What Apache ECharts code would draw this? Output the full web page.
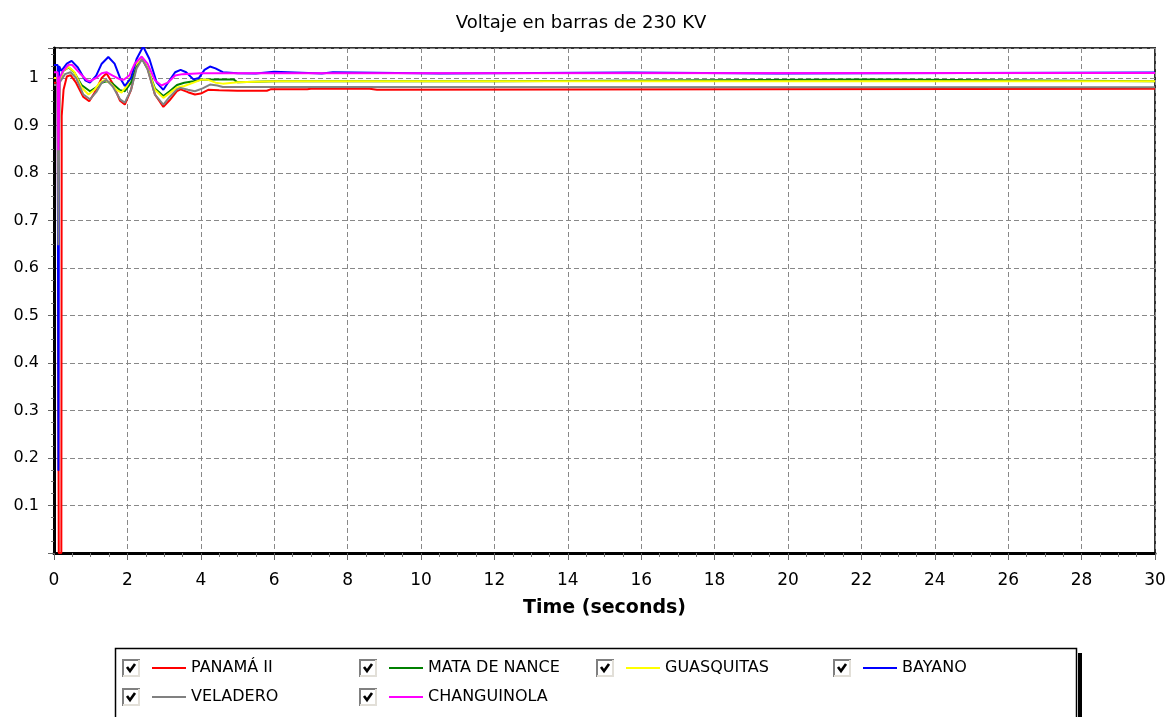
<!DOCTYPE html>
<html>
<head>
<meta charset="utf-8">
<script src="https://cdn.jsdelivr.net/npm/echarts@6/dist/echarts.min.js"></script>
<style>
html,body{margin:0;padding:0;background:#fff;}
#chart{width:1171px;height:717px;}
</style>
</head>
<body>
<div id="chart"></div>
<script>
const titleText = 'Voltaje en barras de 230 KV';
const xAxisName = 'Time (seconds)';
const seriesNames = ['PANAMÁ II', 'MATA DE NANCE', 'GUASQUITAS', 'BAYANO', 'VELADERO', 'CHANGUINOLA'];
const seriesColors = ['#ff0000', '#008000', '#ffff00', '#0000ff', '#808080', '#ff00ff'];

const panama = [[0,0.99],[0.1,0.99],[0.13,0.0],[0.2,0.0],[0.21,0.92],[0.26,0.975],[0.35,1.003],[0.45,1.006],[0.6,0.99],[0.8,0.96],[0.96,0.951],[1.1,0.968],[1.3,1.0],[1.43,1.01],[1.6,0.988],[1.8,0.952],[1.93,0.944],[2.1,0.975],[2.25,1.025],[2.4,1.042],[2.55,1.02],[2.75,0.965],[2.98,0.939],[3.15,0.953],[3.35,0.972],[3.45,0.976],[3.65,0.97],[3.84,0.965],[4.0,0.967],[4.2,0.975],[4.5,0.974],[5.0,0.973],[5.8,0.973],[5.9,0.976],[6.9,0.976],[7.0,0.977],[8.6,0.977],[8.65,0.975],[8.8,0.975],[8.85,0.977],[30,0.977]];
const mataDeNance = [[0,1.0],[0.1,1.0],[0.12,0.8],[0.15,0.99],[0.25,1.015],[0.4,1.022],[0.55,1.012],[0.75,0.985],[0.98,0.972],[1.15,0.98],[1.3,0.99],[1.43,0.993],[1.6,0.988],[1.8,0.974],[1.93,0.972],[2.1,0.99],[2.25,1.025],[2.4,1.04],[2.55,1.02],[2.75,0.978],[2.98,0.962],[3.15,0.972],[3.35,0.985],[3.55,0.99],[3.8,0.993],[4.0,0.996],[4.5,0.9965],[4.9,0.9965],[5.0,0.991],[6.0,0.993],[12.0,0.993],[12.05,0.9968],[22.3,0.9968],[22.35,0.993],[30,0.993]];
const guasquitas = [[0,1.0],[0.1,1.0],[0.12,0.78],[0.15,0.99],[0.25,1.015],[0.4,1.023],[0.55,1.013],[0.75,0.98],[0.94,0.965],[1.1,0.975],[1.25,0.99],[1.39,0.996],[1.55,0.988],[1.7,0.975],[1.84,0.969],[2.0,0.985],[2.2,1.025],[2.39,1.043],[2.55,1.02],[2.75,0.975],[2.98,0.958],[3.15,0.968],[3.35,0.98],[3.55,0.983],[3.8,0.99],[4.0,0.996],[4.2,0.996],[4.4,0.99],[4.6,0.988],[5.0,0.991],[6.0,0.993],[30,0.993]];
const bayano = [[0,1.027],[0.1,1.027],[0.12,0.173],[0.14,1.025],[0.2,1.015],[0.35,1.03],[0.48,1.036],[0.65,1.022],[0.85,0.995],[0.98,0.99],[1.15,1.005],[1.3,1.03],[1.48,1.044],[1.65,1.03],[1.8,1.0],[1.93,0.983],[2.1,1.0],[2.25,1.04],[2.43,1.066],[2.6,1.04],[2.8,0.99],[2.98,0.975],[3.15,0.995],[3.3,1.012],[3.45,1.017],[3.6,1.012],[3.8,0.997],[3.95,1.0],[4.1,1.017],[4.25,1.024],[4.4,1.02],[4.6,1.012],[5.0,1.01],[5.5,1.0095],[5.55,1.013],[6.0,1.013],[6.05,1.0095],[7.3,1.0095],[7.35,1.012],[7.6,1.012],[7.65,1.0095],[10.5,1.0095],[10.55,1.0115],[15.7,1.0115],[15.75,1.0095],[19.7,1.0095],[19.75,1.0115],[30,1.0115]];
const veladero = [[0,0.985],[0.1,0.985],[0.12,0.648],[0.15,0.99],[0.3,1.008],[0.45,1.012],[0.6,1.0],[0.8,0.965],[0.98,0.955],[1.15,0.97],[1.3,0.99],[1.43,0.996],[1.6,0.982],[1.8,0.955],[1.93,0.948],[2.1,0.975],[2.25,1.02],[2.4,1.04],[2.55,1.018],[2.75,0.965],[2.98,0.944],[3.15,0.96],[3.35,0.976],[3.45,0.979],[3.65,0.975],[3.84,0.972],[4.05,0.978],[4.25,0.986],[4.45,0.984],[4.6,0.981],[5.0,0.981],[30,0.9805]];
const changuinola = [[0,1.012],[0.1,1.012],[0.12,0.848],[0.15,1.0],[0.25,1.015],[0.4,1.028],[0.5,1.027],[0.7,1.01],[0.9,0.995],[0.98,0.993],[1.15,1.0],[1.3,1.01],[1.43,1.012],[1.6,1.005],[1.8,0.997],[1.9,0.996],[2.05,1.005],[2.2,1.03],[2.39,1.045],[2.55,1.03],[2.75,0.995],[2.93,0.984],[3.1,0.99],[3.3,1.005],[3.5,1.008],[4.0,1.01],[30,1.0102]];

const seriesData = [panama, mataDeNance, guasquitas, bayano, veladero, changuinola];

const xTickLabels = ['0','2','4','6','8','10','12','14','16','18','20','22','24','26','28','30'];
const yTickLabels = ['0.1','0.2','0.3','0.4','0.5','0.6','0.7','0.8','0.9','1'];

// legend layout (columns / rows)
const legendCols = [122, 359, 596, 833];
const legendRows = [668, 697];
const legendSlots = [[0,0],[1,0],[2,0],[3,0],[0,1],[1,1]];

const FONT = 'DejaVu Sans';

const chart = echarts.init(document.getElementById('chart'), null, {renderer: 'canvas'});

const legends = seriesNames.map((name, i) => {
  const [c, r] = legendSlots[i];
  return {
    data: [name],
    left: legendCols[c] + 30,
    top: legendRows[r] - 10,
    orient: 'horizontal',
    padding: 0,
    itemWidth: 34,
    itemHeight: 2,
    icon: 'rect',
    selectedMode: false,
    textStyle: {fontFamily: FONT, fontSize: 16, color: '#000', lineHeight: 20}
  };
});

const checkboxes = [];
legendSlots.forEach(([c, r]) => {
  const x0 = legendCols[c], y0 = legendRows[r] - 9, s = 18;
  checkboxes.push({type:'rect', shape:{x:x0, y:y0, width:s, height:s}, style:{fill:'#fff'}, silent:true});
  checkboxes.push({type:'polyline', shape:{points:[[x0+1,y0+s],[x0+1,y0+1],[x0+s,y0+1]]}, style:{stroke:'#808080', lineWidth:2, fill:null}, silent:true});
  checkboxes.push({type:'polyline', shape:{points:[[x0+s-1,y0+1],[x0+s-1,y0+s-1],[x0+1,y0+s-1]]}, style:{stroke:'#e2dfd8', lineWidth:2, fill:null}, silent:true});
  checkboxes.push({type:'polyline', shape:{points:[[x0+5,y0+8],[x0+8,y0+12],[x0+13,y0+5]]}, style:{stroke:'#000', lineWidth:2.6, fill:null}, silent:true});
});

const option = {
  backgroundColor: '#ffffff',
  animation: false,
  color: seriesColors,
  title: {
    text: titleText,
    left: 576,
    textAlign: 'center',
    top: 9,
    textStyle: {fontFamily: FONT, fontSize: 18, fontWeight: 'normal', color: '#000'}
  },
  grid: {
    left: 54, right: 16, top: 48, bottom: 164,
    show: true, borderColor: '#333', borderWidth: 2, backgroundColor: '#fff'
  },
  legend: legends,
  xAxis: {
    type: 'value',
    min: 0, max: 30, interval: 2,
    name: xAxisName,
    nameLocation: 'middle',
    nameGap: 46,
    nameTextStyle: {fontFamily: FONT, fontSize: 19, fontWeight: 'bold', color: '#000'},
    axisLine: {show: true, onZero: false, lineStyle: {color: '#000', width: 3}},
    axisTick: {show: true, length: 7, lineStyle: {color: '#666', width: 1}},
    minorTick: {show: true, splitNumber: 4, length: 4, lineStyle: {color: '#777', width: 1}},
    axisLabel: {
      margin: 19, fontFamily: FONT, fontSize: 17, color: '#000',
      formatter: v => { const i = Math.round(v / 2); return Math.abs(v - i * 2) < 1e-6 ? xTickLabels[i] : ''; }
    },
    splitLine: {show: true, lineStyle: {color: '#888', type: [5, 3], width: 1}}
  },
  yAxis: {
    type: 'value',
    min: 0, max: 1.063, interval: 0.1,
    axisLine: {show: true, onZero: false, lineStyle: {color: '#000', width: 3}},
    axisTick: {show: true, length: 6, lineStyle: {color: '#666', width: 1}},
    minorTick: {show: true, splitNumber: 4, length: 3, lineStyle: {color: '#777', width: 1}},
    axisLabel: {
      margin: 15, fontFamily: FONT, fontSize: 16, color: '#000', showMaxLabel: false,
      formatter: v => { const i = Math.round(v * 10); return (i >= 1 && i <= 10 && Math.abs(v * 10 - i) < 1e-6) ? yTickLabels[i - 1] : ''; }
    },
    splitLine: {show: true, lineStyle: {color: '#888', type: [5, 3], width: 1}}
  },
  graphic: [
    {type:'rect', shape:{x:115.5, y:648.5, width:961, height:120}, style:{fill:'#fff', stroke:'#000', lineWidth:1.5}, silent:true, z:-1},
    {type:'rect', shape:{x:1078, y:653, width:4, height:120}, style:{fill:'#000'}, silent:true, z:-1}
  ].concat(checkboxes),
  series: seriesNames.map((name, i) => ({
    name: name,
    type: 'line',
    data: seriesData[i],
    showSymbol: false,
    symbol: 'none',
    clip: true,
    lineStyle: {width: 2, color: seriesColors[i]},
    itemStyle: {color: seriesColors[i]},
    emphasis: {disabled: true}
  }))
};

chart.setOption(option);
</script>
</body>
</html>
